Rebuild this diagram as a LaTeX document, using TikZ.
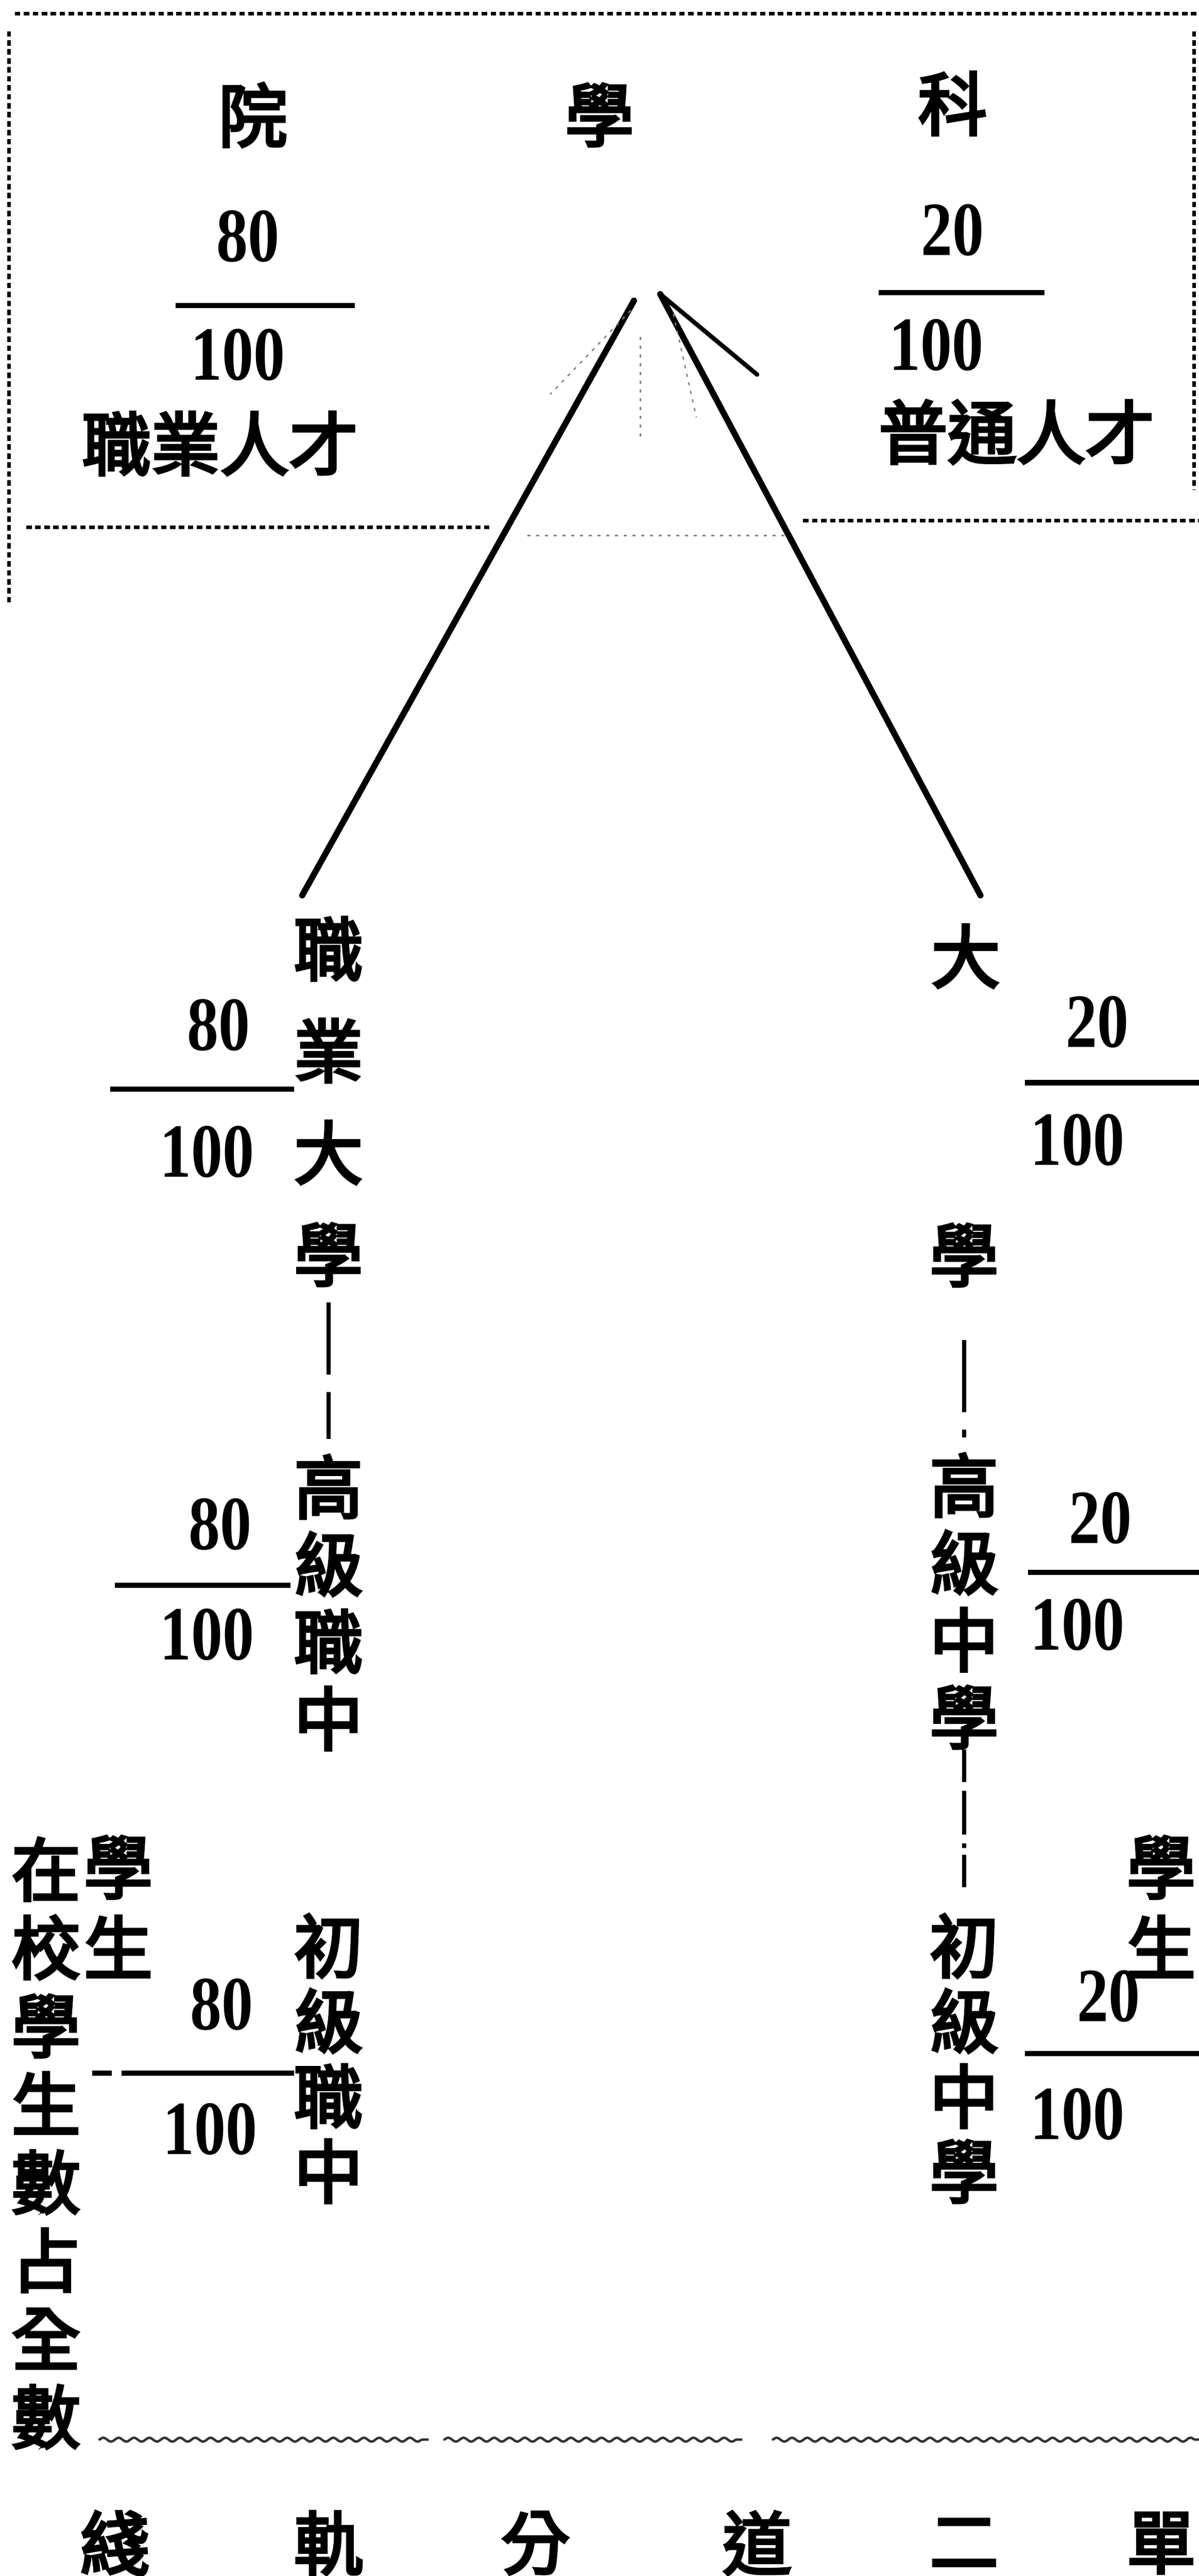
\documentclass[tikz,border=0pt]{standalone}
\usepackage{fontspec}
\setmainfont{Liberation Serif}
\newfontfamily\cjk[FakeBold=4]{Noto Sans CJK TC}
\newfontfamily\digits[FakeStretch=0.82]{Liberation Serif}
\usetikzlibrary{decorations.pathmorphing}

\tikzset{every picture/.style={line width=0.75pt}}
\tikzset{
  zi/.style={inner sep=0pt, font=\cjk\fontsize{31.5}{36}\selectfont},
  col/.style={inner sep=0pt, align=center, font=\cjk\fontsize{31.5}{#1}\selectfont},
  num/.style={inner sep=0pt, font=\digits\bfseries\fontsize{35}{38}\selectfont},
  bar/.style={line width=2.4pt},
  branch/.style={line width=2.8pt, line cap=round},
  border/.style={line width=1.6pt, dash pattern=on 2.5pt off 1.6pt},
  faint/.style={line width=0.6pt, gray, dash pattern=on 1.5pt off 2.5pt},
  gapline/.style={line width=2pt, dash pattern=on 33pt off 8pt},
  wave/.style={line width=1.1pt, gray!40!black, decorate, decoration={snake, amplitude=0.9pt, segment length=7pt}}
}

\begin{document}
\begin{tikzpicture}[x=0.75pt,y=0.75pt,yscale=-1,xscale=1]
\useasboundingbox (0,0) rectangle (730,1568);
\clip (0,0) rectangle (730,1568);

%Dotted box
\draw[border] (9,8.4) -- (730,8.4);
\draw[border] (5.6,19) -- (5.6,368);
\draw[border] (727,19) -- (727,298);
\draw[border] (16,321) -- (298,321);
\draw[border] (489,317) -- (730,317);
\draw[faint] (321,326) -- (480,326);

% Text Node
\node[zi] (yuan) at (154,70) {院};
% Text Node
\node[zi] (xueT) at (365,70) {學};
% Text Node
\node[zi] (ke) at (580,63) {科};

% Text Node
\node[num] (n1) at (151,144) {80};
\draw[bar] (107,186) -- (216,186);
\node[num] (d1) at (145,216) {100};
% Text Node
\node[zi] (zhiye) at (134,270) {職業人才};

% Text Node
\node[num] (n2) at (580,140) {20};
\draw[bar] (535,178) -- (636,178);
\node[num] (d2) at (570,210) {100};
% Text Node
\node[zi] (putong) at (619,263) {普通人才};

%Branches
\coordinate (apexL) at (386,183);
\coordinate (apexR) at (402,179);
\coordinate (hook) at (461,228);
\coordinate (footL) at (184,545);
\coordinate (footR) at (597,545);
\draw[branch] (apexL) -- (footL);
\draw[branch] (apexR) -- (footR);
\draw[line width=2pt, line cap=round] (apexR) -- (hook);
\draw[faint] (384,189) -- (335,240);
\draw[faint] (390,205) -- (390,268);
\draw[faint] (410,191) -- (424,254);

% Left column
\node[col=46.5] (LA) at (200,670.5) {職\\業\\大\\學};
\node[col=35.25] (LB) at (200,975.5) {高\\級\\職\\中};
\node[col=34.3] (LC) at (200,1253) {初\\級\\職\\中};
\draw[gapline, shorten <=7pt, shorten >=7pt] (LA.south) -- (LB.north);

% Right column
\node[zi] (Rda) at (588,582) {大};
\node[zi] (Rxue) at (587,764) {學};
\node[col=35.25] (RB) at (587,974.5) {高\\級\\中\\學};
\node[col=34.3] (RC) at (587,1253) {初\\級\\中\\學};
\draw[gapline, shorten <=24pt, shorten >=7pt] (Rxue.south) -- (RB.north);
\draw[line width=2pt, dash pattern=on 15pt off 4pt on 20pt off 4pt on 2pt off 3pt, shorten >=8pt] (RB.south) -- (RC.north);

% Fractions, left
\node[num] (n3) at (133,624) {80};
\draw[bar] (67,663) -- (179,663);
\node[num] (d3) at (126,701) {100};
\node[num] (n5) at (134,928) {80};
\draw[bar] (70,965) -- (177,965);
\node[num] (d5) at (126,995) {100};
\node[num] (n7) at (135,1220) {80};
\draw[bar] (56,1262) -- (68,1262);
\draw[bar] (74,1262) -- (179,1262);
\node[num] (d7) at (128,1296) {100};

% Fractions, right
\node[num] (n4) at (668,622) {20};
\draw[bar] (624,659) -- (730,659);
\node[num] (d4) at (656,694) {100};
\node[num] (n6) at (670,924) {20};
\draw[bar] (626,957) -- (730,957);
\node[num] (d6) at (656,989) {100};
\node[num] (n8) at (675,1215) {20};
\draw[bar] (624,1250) -- (730,1250);
\node[num] (d8) at (656,1287) {100};

% Side labels
\node[col=35.7] (zaixiao) at (28,1304.5) {在\\校\\學\\生\\數\\占\\全\\數};
\node[col=36.75] (xsL) at (72,1160.5) {學\\生};
\node[col=36.75] (xsR) at (707,1160.5) {學\\生};

%Wavy lines
\draw[wave] (60,1485) -- (261,1485);
\draw[wave] (270,1485) -- (452,1485);
\draw[wave] (470,1485) -- (730,1485);

% Bottom row
\node[zi] (xian) at (70,1548) {綫};
\node[zi] (gui) at (200,1548) {軌};
\node[zi] (fen) at (326,1548) {分};
\node[zi] (dao) at (461,1548) {道};
\node[zi] (er) at (587,1548) {二};
\node[zi] (dan) at (707,1548) {單};

\end{tikzpicture}
\end{document}
